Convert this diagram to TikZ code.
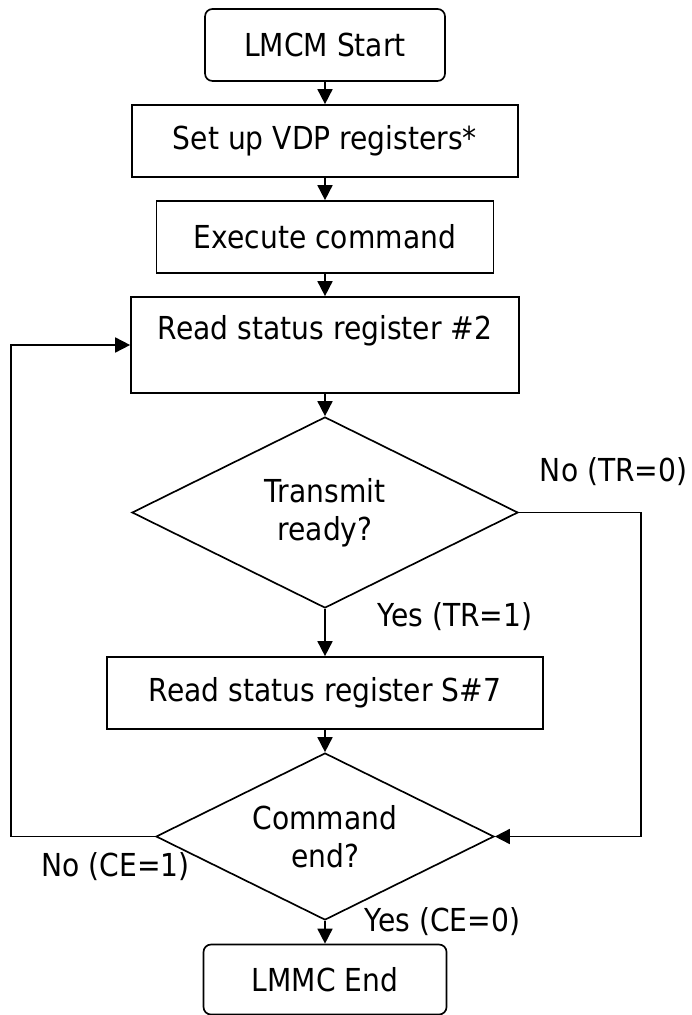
\documentclass[tikz,border=0pt]{standalone}
\usepackage{fontspec}
\setmainfont[FakeStretch=0.89]{DejaVu Sans}
\usepackage{tikz}
\usetikzlibrary{arrows.meta,shapes.geometric}

\begin{document}
\begin{tikzpicture}[scale=1.0,>={Triangle[length=8.5pt,width=8.5pt]},line width=0.95pt,
    every node/.style={font=\fontsize{18}{21.6}\selectfont},
    procbox/.style={draw,rectangle,minimum height=1.44cm,inner sep=0pt},
    termbox/.style={draw,rectangle,rounded corners=0.15cm,minimum height=1.44cm,inner sep=0pt},
    testbox/.style={draw,diamond,aspect=2,inner sep=0pt,align=center}]
      \useasboundingbox (0,0) rectangle (13.82,-20.3);
      \node[termbox,minimum width=4.8cm] (start) at (6.5,-0.9) {LMCM Start};
      \node[procbox,minimum width=7.72cm] (setup) at (6.5,-2.82) {Set up VDP registers*};
      \node[procbox,minimum width=6.74cm] (exec) at (6.5,-4.74) {Execute command};
      \node[procbox,minimum width=7.76cm,minimum height=1.92cm,text height=0.5cm,text depth=0.74cm]
        (rdtwo) at (6.5,-6.9) {Read status register \#2};
      \node[testbox,minimum width=7.72cm,minimum height=3.82cm] (trdy) at (6.5,-10.25) {Transmit\\ready?};
      \node[procbox,minimum width=8.72cm] (rdsvn) at (6.5,-13.86) {Read status register S\#7};
      \node[testbox,minimum width=6.76cm,minimum height=3.34cm] (cend) at (6.5,-16.73) {Command\\end?};
      \node[termbox,minimum width=4.86cm,minimum height=1.4cm] (stop) at (6.5,-19.59) {LMMC End};
      \coordinate (lft) at (0.22,0);
      \coordinate (rgt) at (12.82,0);
      \draw[->] (start) -- (setup);
      \draw[->] (setup) -- (exec);
      \draw[->] (exec) -- (rdtwo);
      \draw[->] (rdtwo) -- (trdy);
      \draw[->] (trdy) -- (rdsvn);
      \draw[->] (rdsvn) -- (cend);
      \draw[->] (cend) -- (stop);
      \draw[->] (trdy.east) -- (trdy.east -| rgt) |- (cend.east);
      \draw[->] (cend.west) -- (cend.west -| lft) |- (rdtwo.west);
      \node[anchor=east,inner sep=1pt] (notr) at (13.8,-9.44) {No (TR=0)};
      \node[anchor=west] (yestr) at (7.42,-12.34) {Yes (TR=1)};
      \node[anchor=west] (noce) at (0.7,-17.34) {No (CE=1)};
      \node[anchor=west] (yesce) at (7.16,-18.44) {Yes (CE=0)};
    \end{tikzpicture}
\end{document}
